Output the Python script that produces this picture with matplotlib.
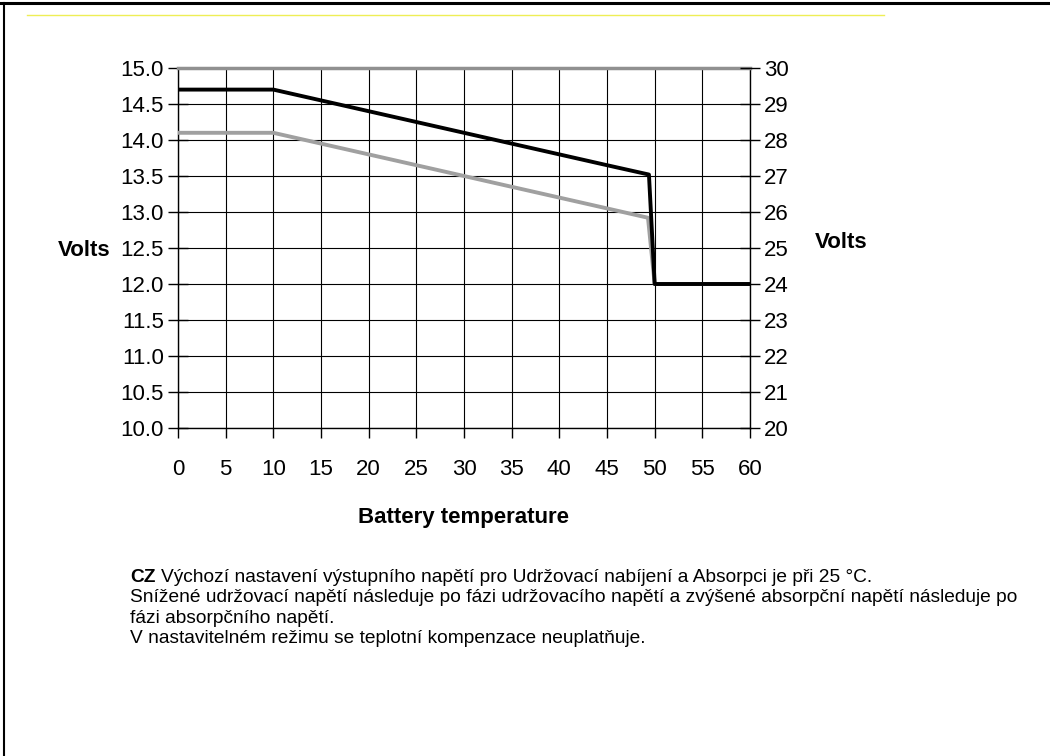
import matplotlib
matplotlib.use("Agg")
import matplotlib.pyplot as plt
from matplotlib.lines import Line2D

plt.rcParams["font.family"] = ["Liberation Sans", "DejaVu Sans"]

# battery temperature (deg C) and charge voltages
temp_absorption = [0, 10, 15, 20, 25, 30, 35, 40, 45, 49.4, 50, 60]
absorption_volts = [14.7, 14.7, 14.55, 14.4, 14.25, 14.1, 13.95, 13.8, 13.65, 13.52, 12.0, 12.0]

temp_float = [0, 10, 15, 20, 25, 30, 35, 40, 45, 49.3, 50, 60]
float_volts = [14.1, 14.1, 13.95, 13.8, 13.65, 13.5, 13.35, 13.2, 13.05, 12.92, 12.0, 12.0]

x_ticks = list(range(0, 61, 5))
left_ticks = [10.0, 10.5, 11.0, 11.5, 12.0, 12.5, 13.0, 13.5, 14.0, 14.5, 15.0]
right_ticks = list(range(20, 31))

notes = [
    "Výchozí nastavení výstupního napětí pro Udržovací nabíjení a Absorpci je při 25 °C.",
    "Snížené udržovací napětí následuje po fázi udržovacího napětí a zvýšené absorpční napětí následuje po",
    "fázi absorpčního napětí.",
    "V nastavitelném režimu se teplotní kompenzace neuplatňuje.",
]

W, H = 1050, 756
fig = plt.figure(figsize=(W / 100, H / 100), dpi=100)


def fx(px):
    return px / W


def fy(py):
    return 1 - py / H


ax = fig.add_axes([fx(178), fy(428), fx(750) - fx(178), fy(68) - fy(428)])

ax.plot(temp_float, float_volts, color="#a0a0a0", lw=2.8, zorder=3)
ax.plot(temp_absorption, absorption_volts, color="black", lw=2.8, zorder=4)

ax.set_xlim(0, 60)
ax.set_ylim(10, 15)
ax.set_xticks(x_ticks)
ax.set_yticks(left_ticks)
ax.set_yticklabels([f"{v:.1f}" for v in left_ticks])
ax.grid(True, color="black", lw=0.8)
ax.set_axisbelow(True)

for side in ["left", "right", "bottom"]:
    ax.spines[side].set_color("black")
    ax.spines[side].set_linewidth(1.0)
ax.spines["top"].set_color("#909090")
ax.spines["top"].set_linewidth(2.5)

ax.tick_params(axis="y", direction="inout", length=14, width=1, labelsize=16, pad=3)
ax.tick_params(axis="x", direction="out", length=7, width=1, labelsize=16, pad=15)

ax2 = ax.twinx()
ax2.set_ylim(20, 30)
ax2.set_yticks(right_ticks)
ax2.tick_params(axis="y", direction="inout", length=14, width=1, labelsize=16, pad=3)
for side in ["left", "right", "bottom", "top"]:
    ax2.spines[side].set_visible(False)

fig.text(fx(58), fy(250), "Volts", fontsize=16, fontweight="bold", ha="left", va="center")
fig.text(fx(815), fy(243), "Volts", fontsize=16, fontweight="bold", ha="left", va="center")
fig.text(fx(464), fy(517), "Battery temperature", fontsize=16, fontweight="bold",
         ha="center", va="center")

# notes under the chart
fig.text(fx(130), fy(578), "CZ", fontsize=13.8, fontweight="bold", ha="left", va="center")
fig.text(fx(161), fy(578), notes[0], fontsize=13.8, ha="left", va="center")
for i, line in enumerate(notes[1:]):
    fig.text(fx(130), fy(598 + 20.3 * i), line, fontsize=13.8, ha="left", va="center")

# page frame and the faint yellow rule
fig.add_artist(Line2D([0, 1], [fy(2.5), fy(2.5)], color="black", lw=2.2))
fig.add_artist(Line2D([fx(4), fx(4)], [0, fy(3)], color="black", lw=1.5))
fig.add_artist(Line2D([fx(27), fx(884)], [fy(15), fy(15)], color="#eeee55", lw=1))

fig.savefig("out.png", dpi=100)
